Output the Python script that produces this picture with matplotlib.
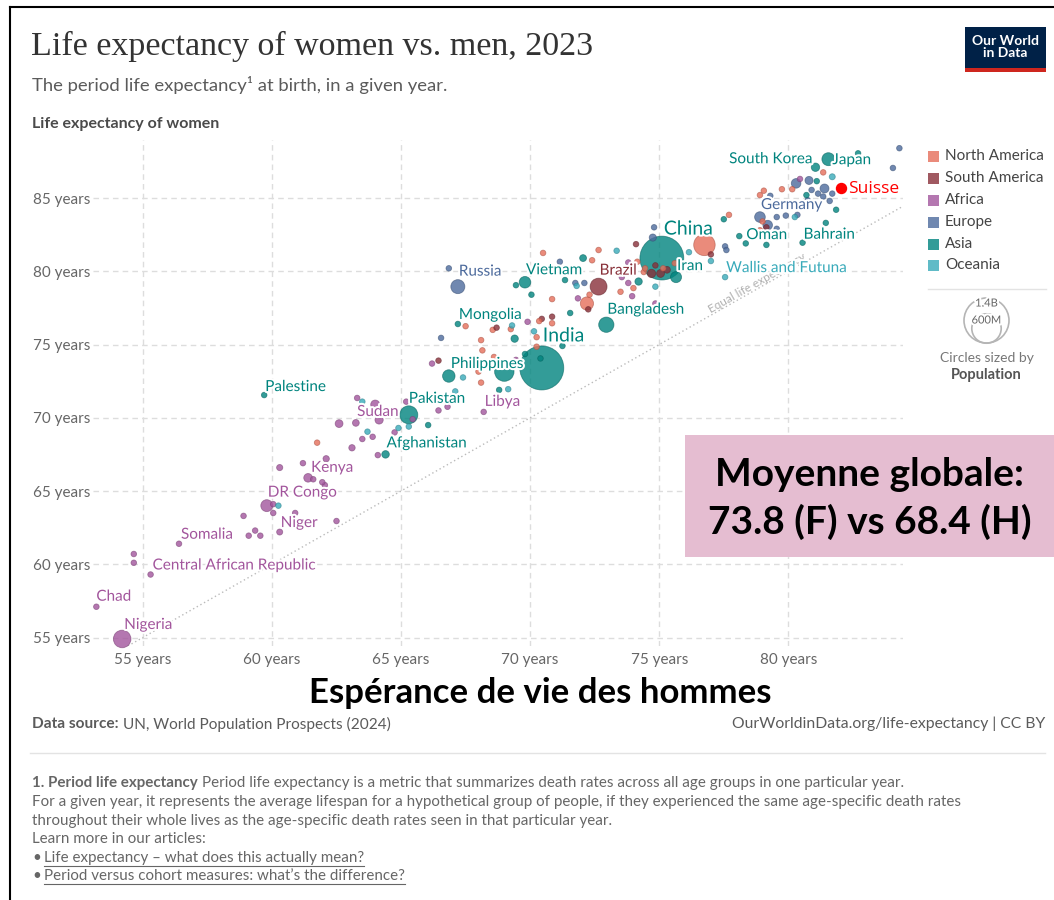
import math
import matplotlib
matplotlib.use("Agg")
import matplotlib.pyplot as plt
import matplotlib.patheffects as pe
from matplotlib.patches import Rectangle, Circle
from matplotlib.lines import Line2D
from matplotlib.transforms import IdentityTransform
from matplotlib.colors import to_rgba
import numpy as np
import pandas as pd

plt.rcParams['font.family'] = ['Lato', 'DejaVu Sans']

W, H = 1054, 900

region_order = ['North America', 'South America', 'Africa', 'Europe', 'Asia', 'Oceania']
region_colors = {
    'North America': '#E56E5A',
    'South America': '#883039',
    'Africa': '#A2559C',
    'Europe': '#4C6A9C',
    'Asia': '#00847E',
    'Oceania': '#38AABA',
}

# life expectancy (years) of men / women, population in millions
named_countries = ['Nigeria', 'Chad', 'Central African Republic', 'Somalia', 'Niger', 'DR Congo',
                   'Kenya', 'Sudan', 'Libya', 'Palestine', 'Pakistan', 'Afghanistan', 'Philippines',
                   'India', 'Mongolia', 'Vietnam', 'Bangladesh', 'China', 'Iran', 'Oman', 'Bahrain',
                   'South Korea', 'Japan', 'Russia', 'Germany', 'Brazil', 'Wallis and Futuna']
named_region = ['Africa'] * 9 + ['Asia'] * 14 + ['Europe', 'Europe', 'South America', 'Oceania']
named_men = [54.2, 53.2, 55.3, 56.4, 60.3, 59.8, 61.4, 64.15, 68.2, 59.7, 65.3, 64.4, 66.85,
             70.45, 67.2, 69.8, 72.95, 75.1, 75.65, 78.1, 80.55, 81.05, 81.55, 67.2, 78.9, 72.65, 77.55]
named_women = [54.9, 57.1, 59.3, 61.4, 62.2, 64.0, 65.9, 69.85, 70.4, 71.55, 70.2, 67.5, 72.85,
               73.4, 76.4, 79.25, 76.35, 80.9, 79.6, 82.4, 81.95, 87.1, 87.65, 78.95, 83.7, 78.95, 79.6]
named_pop = [228, 18, 5, 18, 27, 105, 55, 50, 7, 5, 240, 42, 115,
             1430, 3.4, 99, 172, 1420, 90, 5, 1.5, 52, 124, 145, 84, 211, 0.01]

africa_men = [54.65, 54.65, 59.1, 59.35, 59.55, 60.05, 60.05, 58.9, 60.9, 62.5, 61.6, 62.05, 61.95,
              60.3, 61.2, 62.1, 63.1, 64.1, 63.5, 63.9, 62.6, 63.25, 64.0, 63.3, 65.2, 65.45, 64.75,
              66.45, 66.8, 66.2, 69.45, 69.9, 71.85, 73.8, 73.55, 73.8, 73.95, 74.85, 80.45]
africa_women = [60.7, 60.1, 61.95, 62.3, 61.95, 64.1, 63.5, 63.3, 63.5, 62.95, 65.8, 65.4, 65.6,
                66.6, 66.9, 67.2, 67.95, 67.45, 68.55, 68.7, 69.6, 69.65, 70.9, 71.35, 71.1, 69.9, 69.0,
                70.5, 70.75, 73.7, 73.95, 76.55, 78.15, 80.6, 79.6, 79.2, 78.3, 77.8, 86.3]
africa_pop = [2, 2, 6, 3, 3, 3, 3, 6, 3, 3, 3, 4, 3, 28, 3, 30, 30, 4, 3, 3, 45, 34, 60, 3, 3,
              3, 3, 3, 3, 3, 3, 4, 5, 2, 2, 4, 4, 5, 1]

asia_men = [66.05, 69.0, 68.8, 69.8, 70.4, 69.4, 71.25, 70.05, 69.45, 71.35, 72.05, 71.55, 74.2,
            77.5, 78.35, 79.15, 80.7, 81.1, 82.7, 81.85, 81.45]
asia_women = [69.5, 73.15, 71.9, 74.35, 74.05, 75.4, 74.9, 78.4, 79.05, 79.4, 80.9, 77.15, 79.3,
              83.55, 81.9, 81.8, 85.2, 86.15, 88.05, 84.2, 83.3]
asia_pop = [5, 278, 10, 8, 10, 40, 5, 5, 5, 5, 35, 5, 40, 5, 3, 3, 3, 5, 7, 3, 3]

europe_men = [66.85, 66.55, 71.15, 71.75, 72.1, 74.8, 74.75, 77.55, 77.6, 79.2, 79.55, 79.55, 79.9,
              80.35, 79.3, 80.3, 80.8, 80.9, 81.15, 81.35, 81.4, 81.7, 81.6, 80.75, 84.05, 84.3]
europe_women = [80.2, 75.45, 80.65, 79.2, 79.2, 83.0, 82.3, 81.7, 81.45, 83.15, 82.9, 83.7, 83.8,
                83.85, 85.15, 86.0, 86.2, 85.55, 85.3, 85.1, 85.65, 85.3, 84.8, 84.85, 87.05, 88.4]
europe_pop = [9, 3, 3, 3, 3, 5, 38, 3, 3, 68, 3, 4, 4, 5, 3, 68, 48, 5, 5, 4, 59, 9, 5, 10, 1, 1]

namerica_men = [76.75, 72.2, 61.75, 70.5, 72.4, 72.65, 70.85, 70.85, 70.35, 67.5, 68.55, 69.25, 68.1,
                68.15, 68.6, 70.25, 70.25, 68.0, 68.1, 72.3, 73.5, 74.0, 74.15, 74.45, 74.4, 75.15,
                75.6, 77.7, 79.0, 78.9, 79.05, 78.9, 79.75, 80.15, 81.35]
namerica_women = [81.8, 77.8, 68.3, 81.25, 80.75, 81.45, 78.1, 76.45, 76.6, 76.25, 76.0, 76.05, 75.3,
                  74.6, 74.15, 75.5, 74.85, 73.15, 72.4, 78.4, 78.6, 78.85, 80.65, 80.2, 79.95, 80.2,
                  80.55, 83.85, 83.4, 82.8, 85.5, 85.2, 85.6, 85.6, 86.75]
namerica_pop = [340, 129, 11, 2, 3, 3, 5, 3, 3, 3, 3, 3, 3, 3, 3, 3, 3, 3, 3, 5, 3, 3, 3, 3, 3, 3,
                3, 3, 3, 3, 3, 3, 3, 3, 3]

samerica_men = [66.45, 70.45, 70.85, 72.25, 68.7, 74.1, 74.85, 74.7, 75.05, 75.3, 77.0, 79.15]
samerica_women = [73.9, 76.75, 76.9, 77.4, 76.15, 81.85, 80.4, 79.85, 79.85, 80.1, 81.15, 83.0]
samerica_pop = [3, 3, 3, 3, 3, 3, 20, 52, 46, 34, 3, 3]

oceania_men = [63.5, 63.7, 64.9, 65.3, 67.1, 67.4, 60.25, 69.15, 69.3, 70.15, 73.35, 71.8, 74.85,
               76.15, 77.0, 80.25, 81.7]
oceania_women = [71.1, 69.05, 69.3, 69.4, 71.8, 72.75, 64.0, 71.95, 76.3, 75.9, 81.4, 79.0, 78.95,
                 81.3, 80.7, 83.7, 86.45]
oceania_pop = [2, 2, 2, 2, 2, 2, 2, 2, 2, 2, 2, 2, 2, 3, 2, 5, 27]

suisse_men = [82.05]
suisse_women = [85.7]

x_ticks = [55, 60, 65, 70, 75, 80]
y_ticks = [55, 60, 65, 70, 75, 80, 85]

# label placement: (ha, dx px, dy px up, font size)
label_style = {
    'South Korea': ('right', -3, 8, 11), 'Japan': ('left', 4, -1, 11),
    'Germany': ('left', 1, 12, 11), 'Oman': ('left', 7, 1, 11),
    'Bahrain': ('left', 1, 8, 11), 'Wallis and Futuna': ('left', 1, 9, 11),
    'China': ('left', 2, 29, 14), 'Iran': ('left', 1, 11, 11),
    'Brazil': ('left', 1, 16, 11), 'Vietnam': ('left', 1, 12, 11),
    'Russia': ('left', 1, 15, 11), 'Mongolia': ('left', 1, 9, 11),
    'Bangladesh': ('left', 1, 15, 11), 'India': ('left', 1, 32, 14),
    'Philippines': ('left', 2, 12, 11), 'Libya': ('left', 1, 10, 11),
    'Pakistan': ('left', 0, 16, 11), 'Afghanistan': ('left', 1, 11, 11),
    'Palestine': ('left', 1, 8, 11), 'Sudan': ('left', -22, 8, 11),
    'Kenya': ('left', 3, 10, 11), 'DR Congo': ('left', 1, 13, 11),
    'Niger': ('left', 1, 9, 11), 'Somalia': ('left', 2, 9, 11),
    'Central African Republic': ('left', 2, 9, 11), 'Chad': ('left', 0, 10, 11),
    'Nigeria': ('left', 2, 14, 11),
}

frames = [pd.DataFrame({'name': named_countries, 'region': named_region, 'men': named_men,
                        'women': named_women, 'pop': named_pop})]
for reg, m, w, p in [('Africa', africa_men, africa_women, africa_pop),
                     ('Asia', asia_men, asia_women, asia_pop),
                     ('Europe', europe_men, europe_women, europe_pop),
                     ('North America', namerica_men, namerica_women, namerica_pop),
                     ('South America', samerica_men, samerica_women, samerica_pop),
                     ('Oceania', oceania_men, oceania_women, oceania_pop)]:
    frames.append(pd.DataFrame({'name': '', 'region': reg, 'men': m, 'women': w, 'pop': p}))
df = pd.concat(frames, ignore_index=True).sort_values('pop', ascending=False)

PT = 0.72  # points per pixel at dpi 100


def fx(x):
    return x / W


def fy(y):
    return 1 - y / H


fig = plt.figure(figsize=(W / 100, H / 100), dpi=100)
fig.patch.set_facecolor('white')

ax = fig.add_axes([fx(93), fy(646), (903 - 93) / W, (646 - 140) / H])
ax.set_xlim(53.07, 84.44)
ax.set_ylim(54.42, 88.96)
for s in ax.spines.values():
    s.set_visible(False)
ax.set_xticks(x_ticks)
ax.set_xticklabels([f'{v} years' for v in x_ticks])
ax.set_yticks(y_ticks)
ax.set_yticklabels([f'{v} years' for v in y_ticks])
ax.tick_params(length=0, labelsize=11, labelcolor='#666666')
ax.tick_params(axis='x', pad=5)
ax.tick_params(axis='y', pad=2)
ax.grid(True, color='#dddddd', linewidth=1, linestyle=(0, (4, 3)))
ax.set_axisbelow(True)

# equal life expectancy line
ax.axline((60, 60), slope=1, color='#bbbbbb', linewidth=1, linestyle=(0, (1, 2)), zorder=1)
p1 = ax.transData.transform((60, 60))
p2 = ax.transData.transform((80, 80))
ang = math.degrees(math.atan2(p2[1] - p1[1], p2[0] - p1[0]))
ax.text(78.9, 78.9, 'Equal life expectancy', rotation=ang, rotation_mode='anchor',
        ha='center', va='bottom', fontsize=8.5, color='#b0b0b0', zorder=2)

radius = np.maximum(2.8, 22 * np.sqrt(df['pop'].values / 1430))
sizes = (2 * radius * PT) ** 2
face = [to_rgba(region_colors[r], 0.8) for r in df['region']]
edge = [tuple(c * 0.75 for c in to_rgba(region_colors[r])[:3]) + (0.6,) for r in df['region']]
ax.scatter(df['men'], df['women'], s=sizes, c=face, edgecolors=edge, linewidths=0.6,
           zorder=3, clip_on=False)

halo = [pe.withStroke(linewidth=3, foreground='white')]
for _, row in df[df['name'] != ''].iterrows():
    ha, dx, dy, fs = label_style[row['name']]
    ax.annotate(row['name'], (row['men'], row['women']), xytext=(dx * PT, dy * PT),
                textcoords='offset points', ha=ha, va='center', fontsize=fs,
                color=region_colors[row['region']], path_effects=halo, zorder=5,
                annotation_clip=False)

ax.scatter(suisse_men, suisse_women, s=(2 * 5 * PT) ** 2, color='#ff0000', zorder=6)
ax.annotate('Suisse', (suisse_men[0], suisse_women[0]), xytext=(7 * PT, -1 * PT),
            textcoords='offset points', ha='left', va='center', fontsize=12.5,
            color='#ff0000', family=['Open Sans', 'DejaVu Sans'], zorder=6)

# ---------- header ----------
fig.text(fx(31), fy(46), 'Life expectancy of women vs. men, 2023', fontsize=24.5,
         family=['Liberation Serif', 'DejaVu Serif'], color='#333333', va='center')
fig.text(fx(32), fy(85), 'The period life expectancy\u00b9 at birth, in a given year.',
         fontsize=13.3, color='#5b5b5b', va='center')
fig.text(fx(32), fy(124), 'Life expectancy of women', fontsize=11.5, color='#4a4a4a',
         fontweight='bold', va='center')

idt = IdentityTransform()
fig.add_artist(Rectangle((965, H - 72), 81, 45, transform=idt, facecolor='#002147', edgecolor='none'))
fig.add_artist(Rectangle((965, H - 72), 81, 4, transform=idt, facecolor='#CE261E', edgecolor='none'))
fig.text(fx(1005.5), fy(47), 'Our World\nin Data', fontsize=10, color='white', fontweight='bold',
         ha='center', va='center', linespacing=1.0)

# ---------- legend ----------
legend_rows = [156, 178, 200, 222, 244, 265]
for reg, yy in zip(region_order, legend_rows):
    fig.add_artist(Rectangle((928, H - yy - 5.5), 11, 11, transform=idt,
                             facecolor=to_rgba(region_colors[reg], 0.8), edgecolor='none'))
    fig.text(fx(945), fy(yy), reg, fontsize=11, color='#444444', va='center')
fig.add_artist(Line2D([928, 1046], [H - 289, H - 289], transform=idt, color='#e3e3e3', linewidth=1))
fig.add_artist(Circle((986.5, H - 320.5), 22.5, transform=idt, fill=False, edgecolor='#b5b5b5', linewidth=1.2))
fig.add_artist(Circle((986.5, H - 328.5), 14.7, transform=idt, fill=False, edgecolor='#b5b5b5', linewidth=1.2))
fig.text(fx(986.5), fy(303), '1.4B', fontsize=8, color='#666666', ha='center', va='center',
         path_effects=halo)
fig.text(fx(986.5), fy(320), '600M', fontsize=8, color='#666666', ha='center', va='center',
         path_effects=halo)
fig.text(fx(986.5), fy(358), 'Circles sized by', fontsize=10, color='#777777', ha='center', va='center')
fig.text(fx(986.5), fy(375), 'Population', fontsize=10.5, color='#555555', fontweight='bold',
         ha='center', va='center')

# ---------- overlay annotations ----------
fig.add_artist(Rectangle((685, H - 557), 369, 122, transform=idt, facecolor='#E5BDD1', edgecolor='none'))
fig.text(fx(869), fy(475), 'Moyenne globale:', fontsize=28, fontweight='bold', color='black',
         ha='center', va='center')
fig.text(fx(870), fy(522), '73.8 (F) vs 68.4 (H)', fontsize=28, fontweight='bold', color='black',
         ha='center', va='center')
fig.text(fx(540), fy(693), 'Espérance de vie des hommes', fontsize=25, fontweight='bold',
         color='black', ha='center', va='center')

# ---------- footer ----------
renderer = fig.canvas.get_renderer()


def runs(x, y, parts, size, color, underline=False):
    for text, weight in parts:
        t = fig.text(fx(x), fy(y), text, fontsize=size, fontweight=weight, color=color,
                     ha='left', va='center')
        bb = t.get_window_extent(renderer)
        if underline:
            fig.add_artist(Line2D([bb.x0, bb.x1], [bb.y0 - 1, bb.y0 - 1], transform=idt,
                                  color=color, linewidth=0.8))
        x += bb.width + 4
    return x


runs(32, 724, [('Data source:', 'bold'), ('UN, World Population Prospects (2024)', 'normal')],
     11.1, '#5b5b5b')
fig.text(fx(1045), fy(724), 'OurWorldinData.org/life-expectancy | CC BY', fontsize=11.3,
         color='#5b5b5b', ha='right', va='center')
fig.add_artist(Line2D([30, 1045], [H - 753, H - 753], transform=idt, color='#e3e3e3', linewidth=1))

fn_color = '#666666'
fn_size = 10.9
runs(32, 783, [('1. Period life expectancy', 'bold'),
               ('Period life expectancy is a metric that summarizes death rates across all age groups '
                'in one particular year.', 'normal')], fn_size, fn_color)
runs(32, 802, [('For a given year, it represents the average lifespan for a hypothetical group of people, '
                'if they experienced the same age-specific death rates', 'normal')], fn_size, fn_color)
runs(32, 821, [('throughout their whole lives as the age-specific death rates seen in that particular year.',
                'normal')], fn_size, fn_color)
runs(32, 839, [('Learn more in our articles:', 'normal')], fn_size, fn_color)
xb = runs(32, 858, [('\u2022', 'normal')], fn_size, fn_color)
runs(xb - 1, 858, [('Life expectancy \u2013 what does this actually mean?', 'normal')], fn_size, fn_color,
     underline=True)
xb = runs(32, 876, [('\u2022', 'normal')], fn_size, fn_color)
runs(xb - 1, 876, [('Period versus cohort measures: what\u2019s the difference?', 'normal')], fn_size,
     fn_color, underline=True)

# frame of the screenshot
fig.add_artist(Line2D([10, W], [H - 7, H - 7], transform=idt, color='black', linewidth=1.5))
fig.add_artist(Line2D([10, 10], [H - 7, 0], transform=idt, color='black', linewidth=1.5))

fig.savefig('out.png', dpi=100)
